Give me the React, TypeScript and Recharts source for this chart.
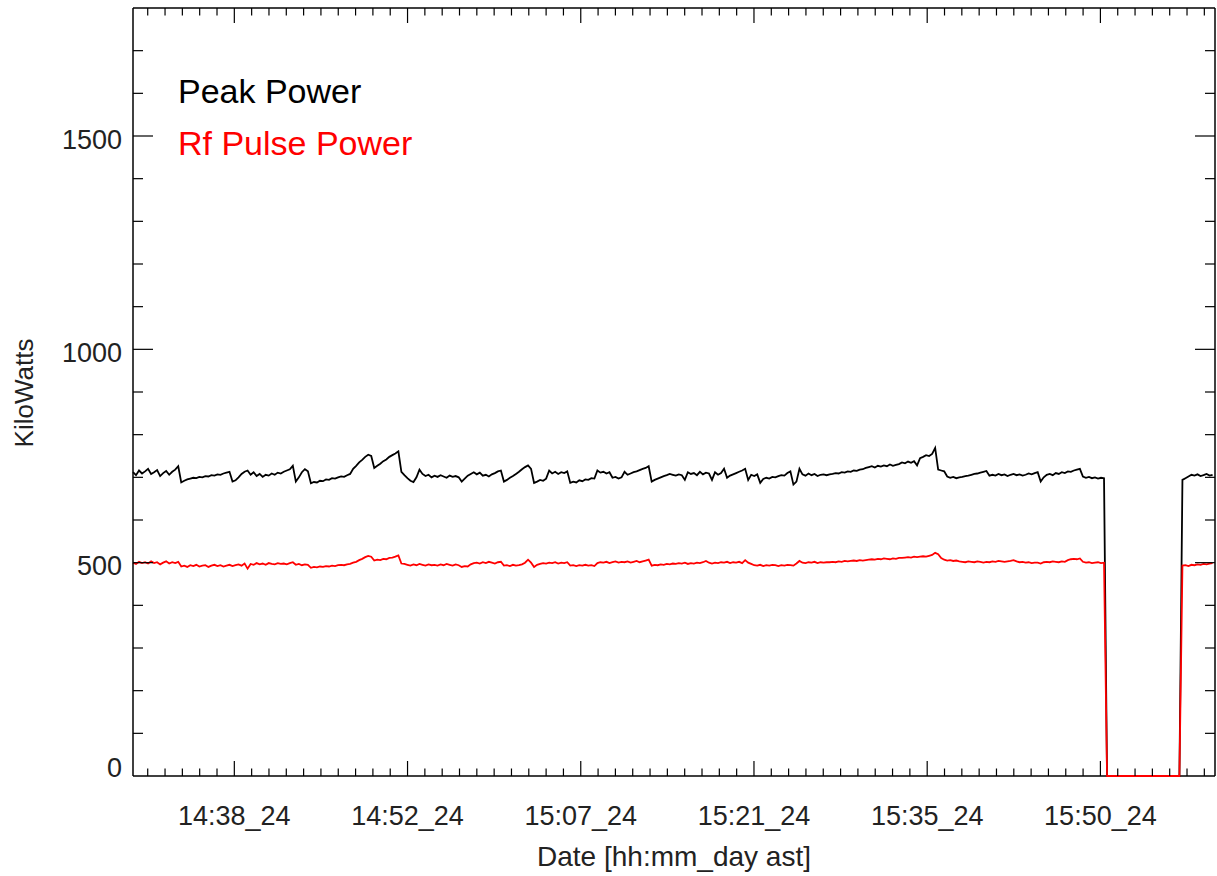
import { CartesianGrid, Label, Legend, Line, LineChart, XAxis, YAxis } from 'recharts';

// samples every 15 s, time in minutes after 14:00 (day 24, ast)
const START_MIN = 30.1;
const STEP_MIN = 0.25;

const peakPower = [
  712, 705, 716, 709, 714, 720, 708, 712, 717, 703, 710, 715, 706, 713, 718,
  726,
  688, 692, 695, 697, 699, 698, 701, 700, 703, 702, 705, 704, 707, 706, 709, 711, 713,
  690, 693, 700, 708, 713,
  716, 706, 712, 703, 708, 701, 706, 704, 709, 706, 711, 709, 713, 716, 719,
  727,
  690, 700, 712, 719, 714,
  686, 689, 688, 692, 691, 695, 694, 698, 697, 700, 702, 701, 705, 708,
  720, 727, 735, 741, 748, 753, 750,
  722, 727, 732, 738, 742, 748, 752, 756, 761,
  713, 705, 698, 692, 689, 700, 718,
  708, 703, 706, 700, 704, 701, 705, 702, 699, 704, 701, 703, 700,
  690, 697, 704, 708, 712, 707, 711,
  704, 706, 702, 707, 710, 714,
  716, 690,
  694, 699, 703, 708, 713, 719, 724,
  728, 720, 687, 690, 694, 692, 697, 716,
  709, 713, 708, 712, 710, 714,
  687, 690, 688, 693, 691, 695, 694, 698, 697,
  716, 711, 713, 709, 712,
  699, 701, 697, 700, 713,
  706, 709, 712, 714, 717, 720, 722, 726,
  690, 694, 697, 700, 703, 705, 708,
  706, 704, 707, 705, 694, 712,
  708, 710, 705, 713, 707, 711, 709,
  694, 712, 706, 710, 720, 699,
  704, 707, 710, 713, 716, 720,
  694, 706, 703, 707, 687,
  696, 699, 697, 701, 700, 703, 705, 704,
  710, 714, 683, 690, 720,
  707, 704, 709, 705, 708, 703, 706, 707, 705,
  707, 708, 710, 709, 712, 711, 714, 713, 716, 715, 718, 719, 722,
  724, 726, 723, 727, 725, 728, 726, 730, 727, 729, 731,
  735, 733, 737, 734, 738, 728,
  745, 748, 752, 750, 755,
  769, 718, 716, 714, 702,
  699, 701, 698, 700,
  701, 703, 704, 706, 708, 709, 711, 713, 715, 704,
  706, 704, 708, 705, 707, 703, 706, 708, 705, 707, 704, 706, 709, 707, 710,
  712, 690,
  700, 706, 708, 705, 710, 708, 712, 710, 714, 713, 716, 718, 720,
  702, 699, 701, 698, 700, 697, 699, 698,
  0, 0, 0, 0, 0, 0, 0, 0, 0, 0, 0, 0, 0, 0, 0, 0, 0, 0, 0, 0, 0, 0, 0, 0, 0,
  694, 698, 702, 706, 704, 707, 703, 705, 708, 704, 706,
];

const rfPulsePower = [
  500, 497, 502, 499, 501, 498, 503, 499, 501, 496, 500, 503, 498, 501, 499, 502,
  491, 493, 490, 494, 492, 495, 491, 493, 494, 490, 493, 495, 492, 494, 491, 493, 495, 492, 494, 496, 493,
  498, 486,
  497, 495, 499, 496, 498, 495, 499, 497, 496, 499, 497, 498, 496, 499,
  501, 495, 497, 494, 496, 495,
  488, 490, 489, 491, 490, 492, 491, 493, 492, 494, 495, 494, 496, 497,
  500, 502, 506, 509, 513, 516, 514,
  505, 507, 506, 509, 508, 511, 512, 514, 517,
  498, 497, 495, 493, 496, 494, 497, 495, 493, 496, 494, 495, 493, 496, 494, 497, 495, 493, 496, 494,
  490, 492, 491, 496, 499, 500, 498, 501, 499, 502, 500, 498, 501,
  502, 493, 494, 492, 495, 493, 494, 496, 500, 507, 500, 490,
  495, 497, 499, 498, 500, 499, 501, 498, 500, 499, 501,
  493, 494, 492, 494, 493, 495, 493, 494, 492,
  499, 501, 500, 502, 499, 501, 503, 500, 502, 501, 503, 500, 502, 504, 501, 503, 505, 507,
  493, 495, 494, 496, 495, 497, 496,
  498, 497, 499, 498, 500, 497, 499, 498, 500, 499, 501, 504, 500, 498, 500, 499, 501, 500, 502, 499, 501, 500, 502, 499, 506, 500, 497,
  494, 493, 495, 492, 494, 493, 495, 494, 492, 494, 493, 495, 494, 493,
  498, 504, 500, 499, 501, 500, 502, 499, 501, 500, 501,
  501, 502, 501, 503, 502, 504, 503, 504, 505, 504, 506, 505, 506,
  507, 508, 507, 509, 508, 510, 509, 508, 510, 509, 511,
  511, 512, 513, 512, 514, 513, 514, 515, 514, 516, 518,
  523, 520, 511, 507, 505, 506, 504, 505, 503,
  502, 501, 503, 502, 501, 503, 502, 500, 502, 501, 503, 502, 504, 503,
  502, 503, 504, 506, 503, 501, 502, 500, 501, 499, 500, 500, 498,
  501, 502, 501, 503, 502, 501, 503, 502, 506, 508, 509, 508, 510,
  502, 500, 501, 499, 500, 501, 499, 500,
  0, 0, 0, 0, 0, 0, 0, 0, 0, 0, 0, 0, 0, 0, 0, 0, 0, 0, 0, 0, 0, 0, 0, 0, 0,
  493, 494, 492, 495, 494, 496, 495, 497, 496, 498, 499,
];

const seriesNames = ['Peak Power', 'Rf Pulse Power'];

const xMajorTicks = [38.5, 52.86, 67.22, 81.58, 95.94, 110.3];
const xMajorLabels = ['14:38_24', '14:52_24', '15:07_24', '15:21_24', '15:35_24', '15:50_24'];
const X_DOMAIN = [30.1, 119.8];
const X_MINOR_STEP = 1.436;

const yTicks = [0, 100, 200, 300, 400, 500, 600, 700, 800, 900, 1000, 1100, 1200, 1300, 1400, 1500, 1600, 1700, 1800];
const yMajorTicks = [0, 500, 1000, 1500];
const yMajorLabels = ['0', '500', '1000', '1500'];

const FONT = '"Liberation Sans", Arial, Helvetica, sans-serif';
const TEXT = '#222';

const data = peakPower.map((p, i) => ({
  t: START_MIN + i * STEP_MIN,
  peak: p,
  rf: rfPulsePower[i],
}));

const xTicks = Array.from({ length: 62 }, (_, k) =>
  Number((xMajorTicks[0] + (k - 5) * X_MINOR_STEP).toFixed(3)),
).filter((v) => v > X_DOMAIN[0] && v < X_DOMAIN[1]);

function XTick({ x, y, payload, top }: any) {
  const idx = xMajorTicks.findIndex((m) => Math.abs(m - payload.value) < 0.01);
  const len = idx >= 0 ? 15 : 7.5;
  const dir = top ? 1 : -1;
  return (
    <g>
      <line x1={x} x2={x} y1={y} y2={y + dir * len} stroke="#000" strokeWidth={1.2} />
      {!top && idx >= 0 && (
        <text x={x} y={y + 48.5} textAnchor="middle" fontSize={27} fill={TEXT} fontFamily={FONT}>
          {xMajorLabels[idx]}
        </text>
      )}
    </g>
  );
}

function YTick({ x, y, payload, right }: any) {
  const v = payload.value;
  const idx = yMajorTicks.indexOf(v);
  const len = idx >= 0 ? 20 : 10;
  const dir = right ? -1 : 1;
  return (
    <g>
      {v > 0 && v < 1800 && (
        <line x1={x} x2={x + dir * len} y1={y} y2={y} stroke="#000" strokeWidth={1.2} />
      )}
      {!right && idx >= 0 && (
        <text
          x={x - 11}
          y={v === 0 ? y + 0.5 : y + 12.5}
          textAnchor="end"
          fontSize={27}
          fill={TEXT}
          fontFamily={FONT}
        >
          {yMajorLabels[idx]}
        </text>
      )}
    </g>
  );
}

function XTitle({ viewBox }: any) {
  return (
    <text
      x={viewBox.x + viewBox.width / 2}
      y={viewBox.y + 89.5}
      textAnchor="middle"
      fontSize={28}
      fill={TEXT}
      fontFamily={FONT}
    >
      Date [hh:mm_day ast]
    </text>
  );
}

function YTitle({ viewBox }: any) {
  const cx = 33;
  const cy = viewBox.y + viewBox.height / 2 + 1;
  return (
    <text
      x={cx}
      y={cy}
      transform={`rotate(-90, ${cx}, ${cy})`}
      textAnchor="middle"
      fontSize={26}
      fill={TEXT}
      fontFamily={FONT}
    >
      KiloWatts
    </text>
  );
}

function LegendText({ payload }: any) {
  return (
    <div style={{ fontFamily: FONT, fontSize: 34, lineHeight: '52px', whiteSpace: 'nowrap' }}>
      {(payload || []).map((e: any) => (
        <div key={e.value} style={{ color: e.color }}>
          {e.value}
        </div>
      ))}
    </div>
  );
}

export default function App() {
  return (
    <div style={{ width: 1217, height: 876, background: '#fff' }}>
      <style>{'body{margin:0;background:#fff}'}</style>
      <LineChart width={1217} height={876} data={data} margin={{ top: 1, right: 0, bottom: 40, left: 8 }}>
        {/* bottom frame edge drawn as a grid line so the series sit on top of it */}
        <CartesianGrid
          vertical={false}
          stroke="#000"
          strokeWidth={1.5}
          strokeDasharray="0"
          horizontalCoordinatesGenerator={(p: any) => [p.offset.top + p.offset.height]}
        />
        <XAxis
          dataKey="t"
          type="number"
          domain={X_DOMAIN}
          ticks={xTicks}
          interval={0}
          height={60}
          tickSize={0}
          tickMargin={0}
          tickLine={false}
          axisLine={false}
          tick={(p: any) => <XTick {...p} />}
        >
          <Label content={XTitle} />
        </XAxis>
        <XAxis
          xAxisId="top"
          orientation="top"
          dataKey="t"
          type="number"
          domain={X_DOMAIN}
          allowDataOverflow
          ticks={xTicks}
          interval={0}
          height={7}
          tickSize={0}
          tickMargin={0}
          tickLine={false}
          axisLine={{ stroke: '#000', strokeWidth: 1.5 }}
          tick={(p: any) => <XTick {...p} top />}
        />
        <YAxis
          type="number"
          domain={[0, 1800]}
          ticks={yTicks}
          interval={0}
          width={125}
          tickSize={0}
          tickMargin={0}
          tickLine={false}
          axisLine={{ stroke: '#000', strokeWidth: 1.5 }}
          tick={(p: any) => <YTick {...p} />}
        >
          <Label content={YTitle} />
        </YAxis>
        <YAxis
          yAxisId="right"
          orientation="right"
          type="number"
          domain={[0, 1800]}
          allowDataOverflow
          ticks={yTicks}
          interval={0}
          width={2}
          tickSize={0}
          tickMargin={0}
          tickLine={false}
          axisLine={{ stroke: '#000', strokeWidth: 1.5 }}
          tick={(p: any) => <YTick {...p} right />}
        />
        <Legend
          layout="vertical"
          align="center"
          verticalAlign="middle"
          content={LegendText}
          wrapperStyle={{ left: 178, top: 65, width: 'auto', height: 'auto' }}
        />
        <Line
          dataKey="peak"
          name={seriesNames[0]}
          stroke="#000000"
          strokeWidth={1.8}
          dot={false}
          activeDot={false}
          isAnimationActive={false}
        />
        <Line
          dataKey="rf"
          name={seriesNames[1]}
          stroke="#ff0000"
          strokeWidth={1.8}
          dot={false}
          activeDot={false}
          isAnimationActive={false}
        />
      </LineChart>
    </div>
  );
}
